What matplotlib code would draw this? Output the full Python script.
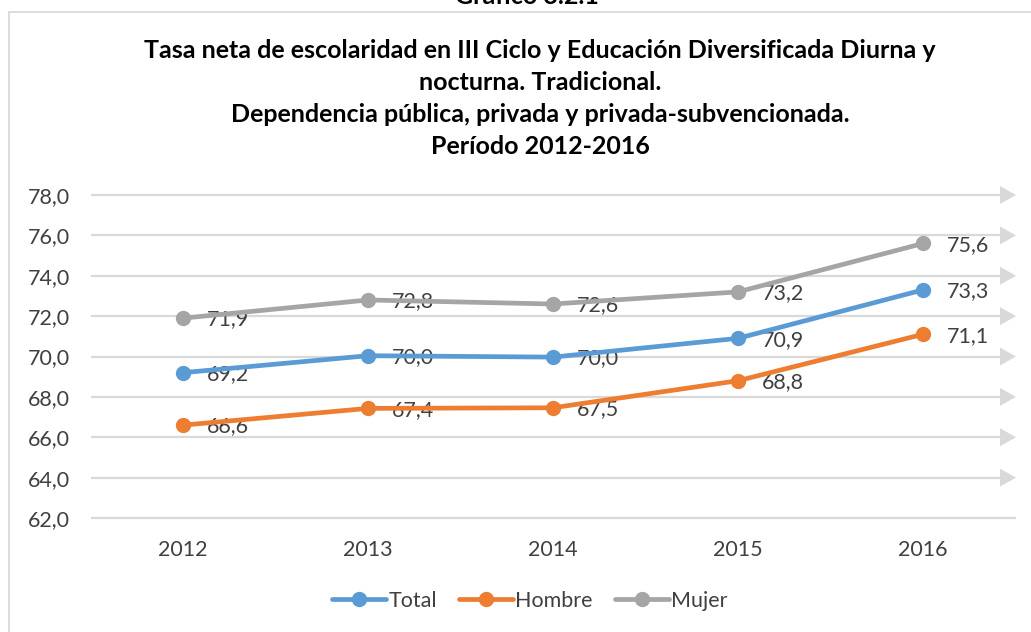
import matplotlib
matplotlib.use("Agg")
import matplotlib.pyplot as plt
from matplotlib.patches import Rectangle, Polygon

years = ["2012", "2013", "2014", "2015", "2016"]
total = [69.2, 70.04, 69.97, 70.9, 73.3]
hombre = [66.6, 67.43, 67.46, 68.8, 71.1]
mujer = [71.9, 72.8, 72.6, 73.2, 75.6]
series = [("Total", total, "#5B9BD5"), ("Hombre", hombre, "#ED7D31"), ("Mujer", mujer, "#A5A5A5")]
yticks = [62, 64, 66, 68, 70, 72, 74, 76, 78]

FONT = "Lato"
TXT = "#404040"
GRID = "#D9D9D9"
W, H = 1031, 632
FS = 15.5

fig = plt.figure(figsize=(W / 100, H / 100), dpi=100)
fig.patch.set_facecolor("white")

# outer frame
fig.add_artist(Rectangle((9 / W, -0.05), 1.1, (H - 12) / H + 0.05, transform=fig.transFigure,
                         fill=False, edgecolor=GRID, linewidth=1.3))

ax_l, ax_r, ax_t, ax_b = 90.5, 1015.5, 195, 518
ax = fig.add_axes([ax_l / W, (H - ax_b) / H, (ax_r - ax_l) / W, (ax_b - ax_t) / H])
ax.set_xlim(-0.5, 4.5)
ax.set_ylim(62, 78)
for s in ax.spines.values():
    s.set_visible(False)
ax.patch.set_visible(False)

def px2x(px):
    return (px - ax_l) / ((ax_r - ax_l) / 5.0) - 0.5

x0, xline, xtip = px2x(91), px2x(1000), px2x(1016)
hh = 9 * 16.0 / (ax_b - ax_t)
for v in yticks:
    if v == yticks[0]:
        ax.plot([x0, xtip], [v, v], color=GRID, lw=1.6, zorder=1, clip_on=False, solid_capstyle="butt")
    else:
        ax.plot([x0, xline], [v, v], color=GRID, lw=1.6, zorder=1, clip_on=False, solid_capstyle="butt")
        ax.add_patch(Polygon([[xline, v - hh], [xtip, v], [xline, v + hh]], closed=True,
                             facecolor=GRID, edgecolor="none", zorder=1, clip_on=False))

xs = list(range(len(years)))
for name, vals, col in series:
    ax.plot(xs, vals, color=col, lw=3.4, marker="o", markersize=10, label=name, zorder=4,
            solid_capstyle="round", solid_joinstyle="round")
    for x, v in zip(xs, vals):
        ax.annotate(f"{v:.1f}".replace(".", ","), (x, v), xytext=(17, -1), textcoords="offset points",
                    ha="left", va="center", fontsize=FS, color=TXT, family=FONT, zorder=3)

ax.set_xticks(xs)
ax.set_xticklabels(years)
ax.set_yticks(yticks)
ax.set_yticklabels([f"{v:.1f}".replace(".", ",") for v in yticks])
ax.tick_params(axis="both", length=0, labelsize=FS, labelcolor=TXT)
ax.tick_params(axis="x", pad=16)
ax.tick_params(axis="y", pad=15)
for lab in ax.get_xticklabels() + ax.get_yticklabels():
    lab.set_family(FONT)

leg = fig.legend(loc="center", bbox_to_anchor=(530 / W, (H - 601) / H), ncol=3, frameon=False,
                 prop={"family": FONT, "size": FS}, handlelength=2.5, handletextpad=0.1,
                 columnspacing=1.05)
for t in leg.get_texts():
    t.set_color(TXT)

# titles
fig.text(527 / W, (H + 3) / H, "Gráfico 3.2.1", ha="center", va="center", fontsize=18,
         fontweight="bold", family=FONT, color="black")
lines = ["Tasa neta de escolaridad en III Ciclo y Educación Diversificada Diurna y",
         "nocturna. Tradicional.",
         "Dependencia pública, privada y privada-subvencionada.",
         "Período 2012-2016"]
for ypx, txt in zip([50, 82, 114, 147], lines):
    fig.text(540 / W, (H - ypx) / H, txt, ha="center", va="center", fontsize=18,
             fontweight="bold", family=FONT, color="black")

fig.savefig("out.png", dpi=100)
